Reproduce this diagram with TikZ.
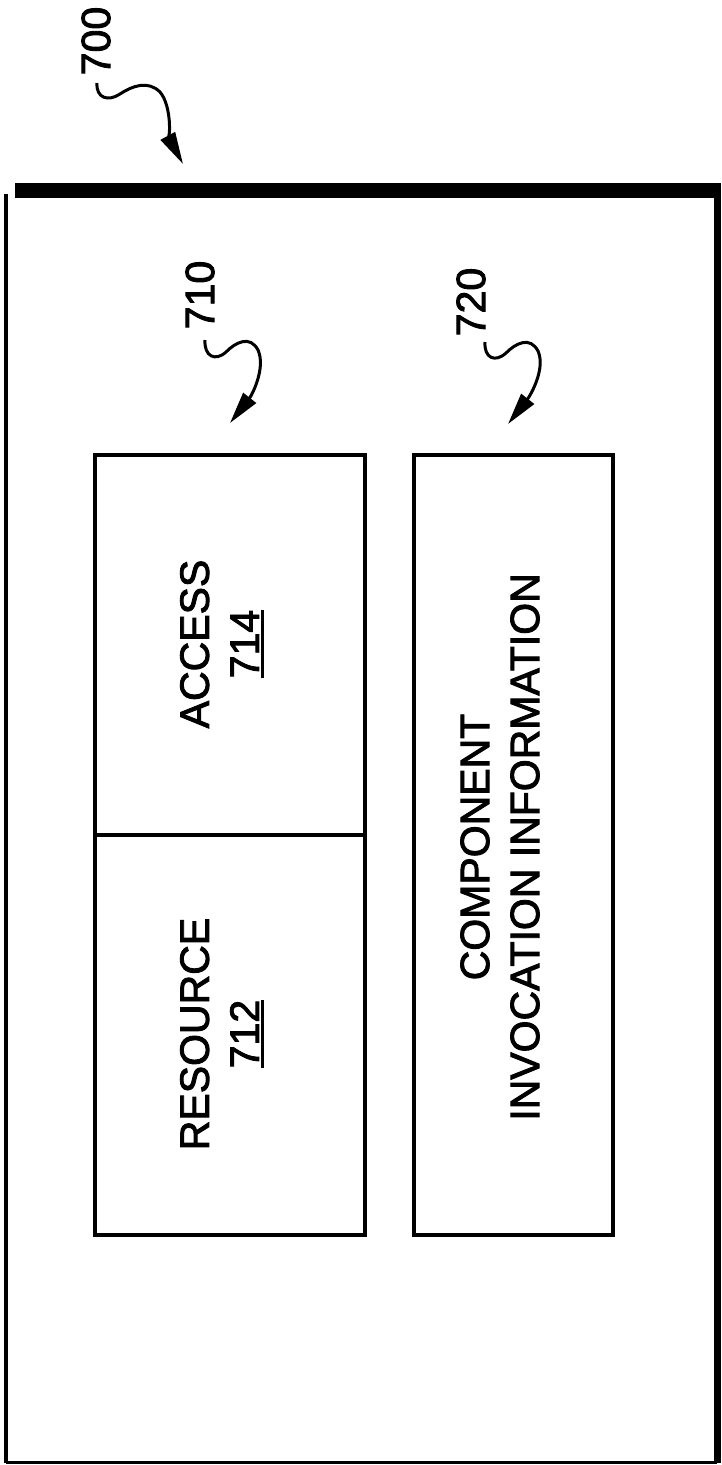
\documentclass[tikz,border=0pt]{standalone}
\usepackage{fontspec}
\setmainfont{Liberation Sans}
\newfontfamily\heavyfont{Liberation Sans}[FakeBold=2.2]
\usetikzlibrary{arrows.meta}
\newcommand{\myul}[1]{\sbox0{#1}\rlap{\rule[-5pt]{\wd0}{3pt}}\usebox0}
\begin{document}
\begin{tikzpicture}[x=1pt,y=-1pt,
  blk/.style={draw, line width=4pt, inner sep=0pt, outer sep=0pt},
  txt/.style={rotate=90, align=center, inner sep=0pt, font=\heavyfont\fontsize{41}{50}\selectfont},
  lbl/.style={rotate=90, inner sep=0pt, font=\heavyfont\fontsize{41}{50}\selectfont},
  squig/.style={line width=3pt, -{Triangle[length=32pt,width=16pt]}}]
\useasboundingbox (0,0) rectangle (721,1465);
% outer frame
\fill (15,183) rectangle (721,198);
\draw[line width=4pt] (6,194) -- (6,1463);
\draw[line width=7pt] (717,190) -- (717,1463);
\draw[line width=3pt] (6,1462) -- (717,1462);
% boxes
\node[blk, minimum width=270pt, minimum height=380pt] (access) at (230,645) {};
\node[blk, minimum width=270pt, minimum height=400pt] (resource) at (230,1035) {};
\node[blk, minimum width=199pt, minimum height=780pt] (cii) at (513.5,845) {};
% texts
\node[txt] (t714) at (222,644) {ACCESS\\\myul{714}};
\node[txt] (t712) at (222,1034) {RESOURCE\\\myul{712}};
\node[txt] (t720) at (500,847) {COMPONENT\\INVOCATION INFORMATION};
% labels
\node[lbl] (l700) at (96,41) {700};
\node[lbl] (l710) at (200,295) {710};
\node[lbl] (l720) at (471,302) {720};
% squiggle arrows
\coordinate (s700) at (97,83);
\coordinate (e700) at (183,164);
\coordinate (s710) at (205,340);
\coordinate (e710) at (230,423);
\coordinate (s720) at (485,342);
\coordinate (e720) at (508,424);
\draw[squig] (s700) .. controls (96,98) and (108,102) .. (120,94)
  .. controls (132,86) and (148,80) .. (160,92)
  .. controls (172,106) and (170,140) .. (e700);
\draw[squig] (s710) .. controls (204,356) and (215,362) .. (226,352)
  .. controls (236,342) and (250,335) .. (258,350)
  .. controls (266,368) and (252,395) .. (e710);
\draw[squig] (s720) .. controls (484,358) and (495,363) .. (506,353)
  .. controls (516,343) and (530,336) .. (538,351)
  .. controls (546,369) and (530,396) .. (e720);
\end{tikzpicture}
\end{document}
